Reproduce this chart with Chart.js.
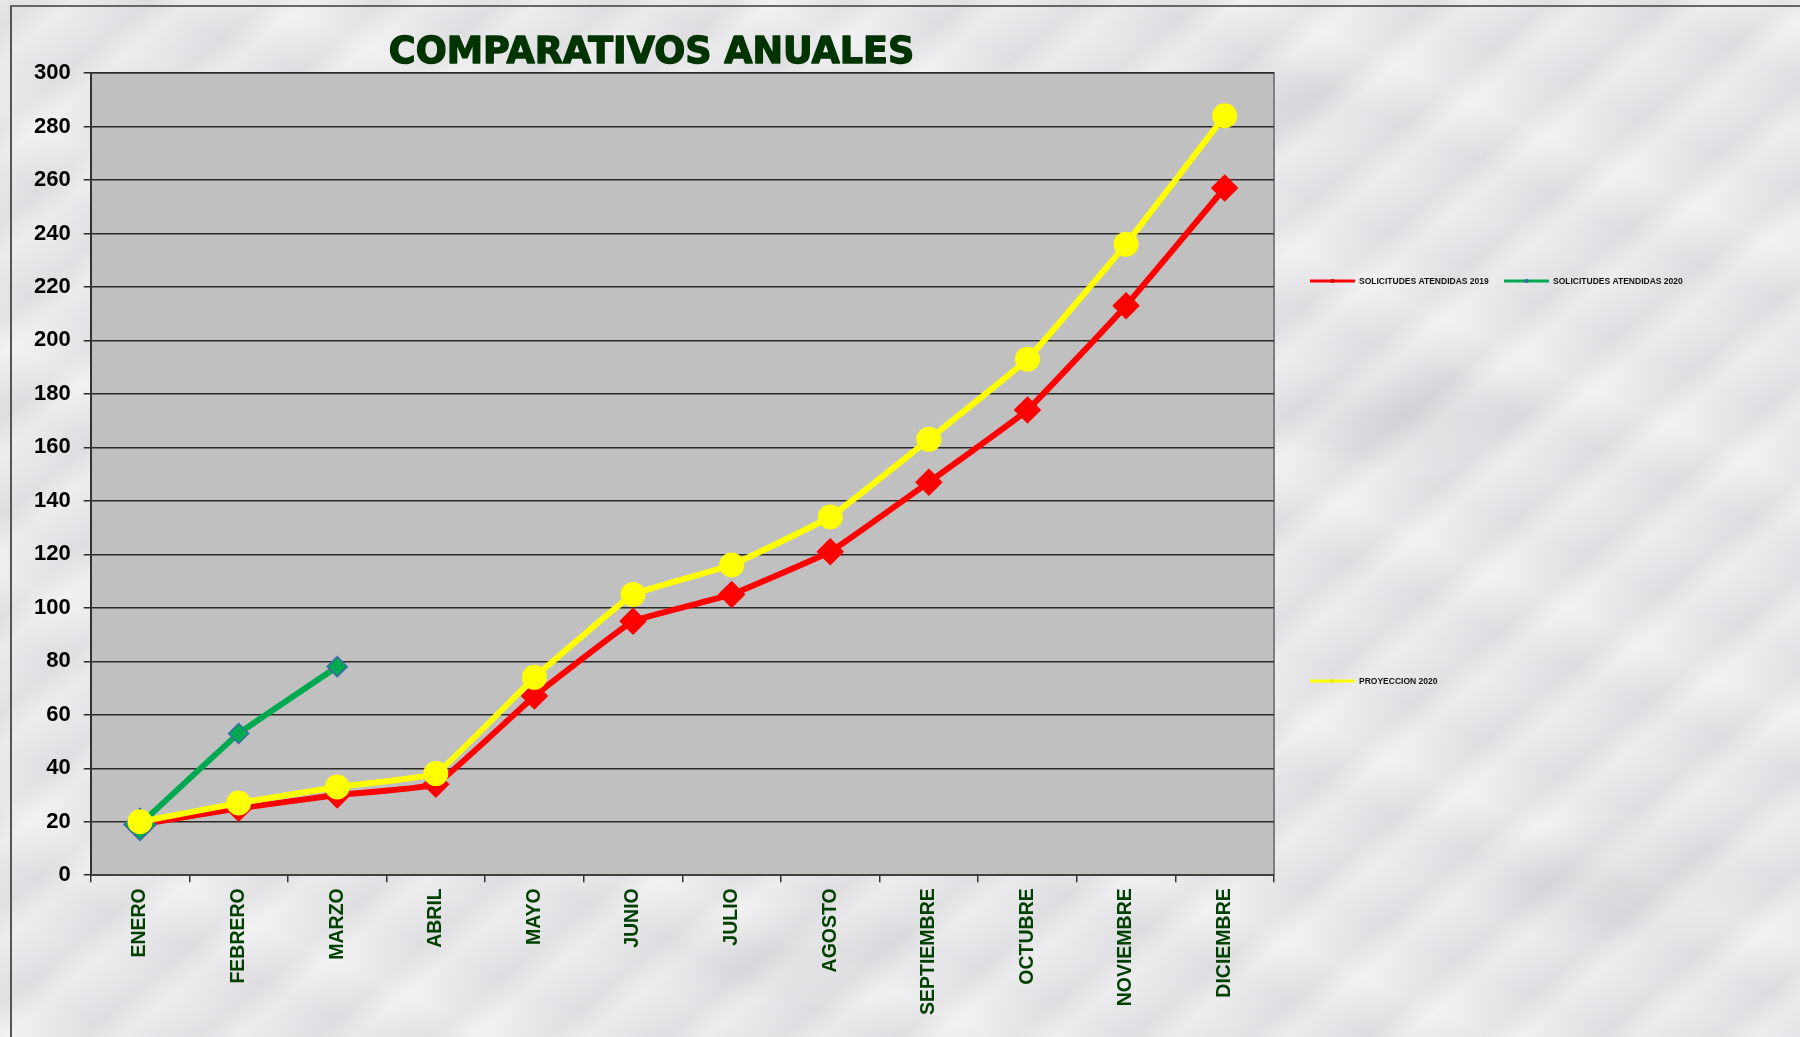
<!DOCTYPE html>
<html>
<head>
<meta charset="utf-8">
<script src="https://cdn.jsdelivr.net/npm/chart.js@4/dist/chart.umd.min.js"></script>
<style>
  html, body { margin: 0; padding: 0; }
  body {
    width: 1800px; height: 1037px; overflow: hidden; position: relative;
    background-color: #e7e7ea;
    background-image:
      radial-gradient(ellipse 180px 60px at 12% 18%, rgba(140,140,145,0.18), rgba(140,140,145,0) 70%),
      radial-gradient(ellipse 220px 70px at 45% 92%, rgba(140,140,145,0.16), rgba(140,140,145,0) 70%),
      radial-gradient(ellipse 200px 80px at 78% 40%, rgba(140,140,145,0.18), rgba(140,140,145,0) 70%),
      radial-gradient(ellipse 240px 90px at 90% 85%, rgba(140,140,145,0.16), rgba(140,140,145,0) 70%),
      radial-gradient(ellipse 160px 70px at 70% 10%, rgba(140,140,145,0.14), rgba(140,140,145,0) 70%),
      repeating-linear-gradient(140deg, rgba(255,255,255,0.0) 0px, rgba(150,150,155,0.07) 22px, rgba(255,255,255,0.28) 48px, rgba(255,255,255,0.0) 75px),
      repeating-linear-gradient(25deg, rgba(255,255,255,0.25) 0px, rgba(185,185,190,0.08) 55px, rgba(255,255,255,0.0) 110px, rgba(175,175,180,0.09) 160px, rgba(255,255,255,0.25) 210px);
  }
  #frame {
    position: absolute; left: 10px; top: 5px; right: 0; bottom: 0;
    border-left: 2px solid #555; border-top: 2px solid #666;
    pointer-events: none;
  }
  canvas { position: absolute; left: 0; top: 0; }
</style>
</head>
<body>
<div id="frame"></div>
<canvas id="c" width="1800" height="1037"></canvas>
<script>
const titleText = 'COMPARATIVOS ANUALES';
const months = ['ENERO','FEBRERO','MARZO','ABRIL','MAYO','JUNIO','JULIO','AGOSTO','SEPTIEMBRE','OCTUBRE','NOVIEMBRE','DICIEMBRE'];
const solicitudes2019 = [19, 25, 30, 34, 67, 95, 105, 121, 147, 174, 213, 257];
const solicitudes2020 = [19, 53, 78];
const proyeccion2020 = [20, 27, 33, 38, 74, 105, 116, 134, 163, 193, 236, 284];
const seriesLabels = ['SOLICITUDES ATENDIDAS 2019', 'SOLICITUDES ATENDIDAS 2020', 'PROYECCION 2020'];
const yMin = 0, yMax = 300, yStep = 20;

const plotBg = {
  id: 'plotBg',
  beforeDraw(chart) {
    const {ctx, chartArea: a} = chart;
    ctx.save();
    ctx.fillStyle = '#c0c0c0';
    ctx.fillRect(a.left, a.top, a.right - a.left, a.bottom - a.top);
    ctx.strokeStyle = '#808080';
    ctx.lineWidth = 2;
    ctx.beginPath();
    ctx.moveTo(a.left, a.top); ctx.lineTo(a.right, a.top); ctx.lineTo(a.right, a.bottom);
    ctx.stroke();
    ctx.restore();
  }
};

const titlePlugin = {
  id: 'titlePlugin',
  afterDraw(chart) {
    const {ctx, chartArea: a} = chart;
    ctx.save();
    ctx.font = 'bold 36.5px "DejaVu Sans"';
    ctx.fillStyle = '#003300';
    ctx.strokeStyle = '#003300';
    ctx.lineWidth = 1.4;
    ctx.lineJoin = 'round';
    ctx.textAlign = 'center';
    ctx.textBaseline = 'alphabetic';
    const x = a.left + (a.right - a.left) * 0.474;
    const y = a.top - 10;
    ctx.strokeText(titleText, x, y);
    ctx.fillText(titleText, x, y);
    ctx.restore();
  }
};

const legendPlugin = {
  id: 'customLegend',
  afterDraw(chart) {
    const {ctx, chartArea: a} = chart;
    const ds = chart.data.datasets;
    const spots = [
      {x: a.right + 36, y: 281},
      {x: a.right + 230, y: 281},
      {x: a.right + 36, y: 681}
    ];
    ctx.save();
    ctx.font = 'bold 8.5px "Liberation Sans", Arial';
    ctx.textBaseline = 'middle';
    ctx.textAlign = 'left';
    ds.forEach((d) => {
      const s = spots[d.legendIndex];
      ctx.strokeStyle = d.borderColor;
      ctx.lineWidth = 3;
      ctx.beginPath();
      ctx.moveTo(s.x, s.y); ctx.lineTo(s.x + 45, s.y);
      ctx.stroke();
      ctx.fillStyle = d.legendMarker;
      ctx.beginPath();
      ctx.arc(s.x + 22.5, s.y, 2, 0, Math.PI * 2);
      ctx.fill();
      ctx.fillStyle = '#111';
      ctx.fillText(d.label, s.x + 49, s.y + 0.5);
    });
    ctx.restore();
  }
};

new Chart(document.getElementById('c'), {
  type: 'line',
  data: {
    labels: months,
    datasets: [
      {
        label: seriesLabels[2], data: proyeccion2020, order: 0, legendIndex: 2,
        borderColor: '#ffff00', backgroundColor: '#ffff00', legendMarker: '#e8e800',
        borderWidth: 6, pointStyle: 'circle', pointRadius: 9.5,
        pointBorderColor: '#ffff00', pointBackgroundColor: '#ffff00', tension: 0.08
      },
      {
        label: seriesLabels[1], data: solicitudes2020, order: 1, legendIndex: 1,
        borderColor: '#00a84f', backgroundColor: '#00a84f', legendMarker: '#3f5fb0',
        borderWidth: 6, pointStyle: 'rectRot', pointRadius: [16, 10, 10],
        pointBorderColor: '#3f6aa8', pointBorderWidth: 1.5, pointBackgroundColor: '#00a84f', tension: 0.05
      },
      {
        label: seriesLabels[0], data: solicitudes2019, order: 2, legendIndex: 0,
        borderColor: '#ff0000', backgroundColor: '#ff0000', legendMarker: '#cc0000',
        borderWidth: 6, pointStyle: 'rectRot', pointRadius: 9.5,
        pointBorderColor: '#ff0000', pointBackgroundColor: '#ff0000', tension: 0.08
      }
    ]
  },
  options: {
    responsive: false,
    devicePixelRatio: 1,
    animation: false,
    layout: { padding: { left: 21, top: 73, right: 526, bottom: 16 } },
    plugins: { legend: { display: false }, title: { display: false }, tooltip: { enabled: false } },
    scales: {
      x: {
        offset: true,
        grid: { display: true, drawOnChartArea: false, drawTicks: true, tickLength: 7, offset: true, color: '#333', lineWidth: 1.5 },
        border: { display: true, color: '#404040', width: 2 },
        ticks: {
          minRotation: 90, maxRotation: 90, autoSkip: false, padding: 6,
          color: '#004000',
          font: { family: '"Liberation Sans", Arial', size: 19.5, weight: 'bold' }
        }
      },
      y: {
        min: yMin, max: yMax,
        grid: { color: '#2a2a2a', lineWidth: 1.5, tickLength: 7, drawTicks: true },
        border: { display: true, color: '#333', width: 2 },
        ticks: {
          stepSize: yStep, padding: 13, color: '#000',
          font: { family: '"Liberation Sans", Arial', size: 22, weight: 'bold' }
        }
      }
    }
  },
  plugins: [plotBg, titlePlugin, legendPlugin]
});
</script>
</body>
</html>
